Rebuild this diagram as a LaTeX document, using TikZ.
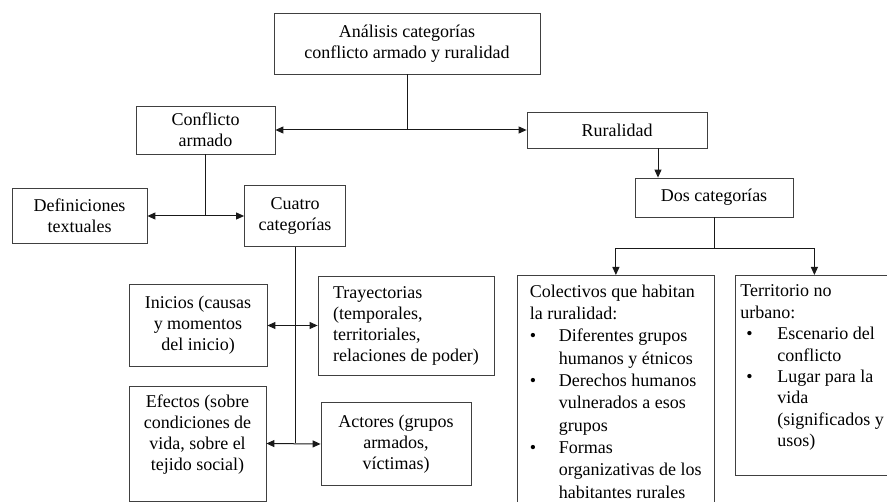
\documentclass[tikz,border=0pt]{standalone}
\usepackage{fontspec}
\setmainfont{Liberation Serif}
\usetikzlibrary{arrows.meta}
\newcommand{\colbul}{\makebox[29pt][l]{\hspace{0pt}\textbullet}}
\newcommand{\colind}{\hspace*{29pt}}
\newcommand{\terbul}{\makebox[37pt][l]{\hspace{6pt}\textbullet}}
\newcommand{\terind}{\hspace*{37pt}}
\begin{document}
\begin{tikzpicture}[x=1pt,y=-1pt,
  box/.style={draw=black!75, line width=0.8pt, align=center, inner sep=0pt,
    font=\fontsize{18}{21}\selectfont},
  lbox/.style={box, align=left},
  listbox/.style={draw=black!75, line width=0.8pt, anchor=north west, inner ysep=9.5pt},
  conn/.style={line width=1pt, draw=black!90},
  arr/.style={conn, -{Triangle[length=8pt,width=7pt]}},
  darr/.style={conn, {Triangle[length=8pt,width=7pt]}-{Triangle[length=8pt,width=7pt]}}]
\useasboundingbox (0,0) rectangle (887,502);
\clip (0,0) rectangle (887,502);

% boxes
\node[box, minimum width=266, minimum height=61] (top) at (407,43.5) {Análisis categorías\\conflicto armado y ruralidad};
\node[box, minimum width=139, minimum height=48] (conf) at (205.5,130) {Conflicto\\armado};
\node[box, minimum width=180, minimum height=36] (rur) at (617,130) {Ruralidad};
\node[box, minimum width=158, minimum height=39] (dos) at (714,197.5) {Dos categorías};
\node[box, minimum width=135, minimum height=55] (defi) at (79.5,216) {Definiciones\\textuales};
\node[box, minimum width=101, minimum height=61] (cuatro) at (295,216) {Cuatro\\categorías};
\node[box, minimum width=138, minimum height=82] (ini) at (198,325.5) {Inicios (causas\\y momentos\\del inicio)};
\node[lbox, minimum width=176, minimum height=99] (tray) at (406,325.5) {Trayectorias\\(temporales,\\territoriales,\\relaciones de poder)};
\node[box, minimum width=137, minimum height=115] (efe) at (197.5,443.5) {Efectos (sobre\\condiciones de\\vida, sobre el\\tejido social)\\\mbox{}};
\node[box, minimum width=150, minimum height=83] (act) at (396,444) {Actores (grupos\\armados,\\víctimas)};

\node[listbox, inner xsep=12.5pt] (col) at (517,275) {\parbox[t][240pt][t]{172pt}{\fontsize{18}{22.3}\selectfont\raggedright
Colectivos que habitan\\
la ruralidad:\\
\colbul Diferentes grupos\\
\colind humanos y étnicos\\
\colbul Derechos humanos\\
\colind vulnerados a esos\\
\colind grupos\\
\colbul Formas\\
\colind organizativas de los\\
\colind habitantes rurales}};

\node[listbox, inner xsep=5pt] (terr) at (735,275) {\parbox[t][181pt][t]{148pt}{\fontsize{18}{21.4}\selectfont\raggedright
Territorio no\\
urbano:\\
\terbul Escenario del\\
\terind conflicto\\
\terbul Lugar para la\\
\terind vida\\
\terind (significados y\\
\terind usos)}};

% connectors
\draw[conn] (top.south) -- (top.south |- conf.east);
\draw[darr] (conf.east) -- (rur.west);
\draw[arr] ([xshift=41pt]rur.south) -- ([xshift=-56pt]dos.north);
\draw[conn] (dos.south) -- ++(0,31) coordinate (j2);
\draw[arr] (j2) -| (col.north);
\draw[arr] (j2) -| (terr.north);
\draw[conn] (conf.south) -- (conf.south |- defi.east);
\draw[darr] (defi.east) -- (cuatro.west);
\draw[conn] (cuatro.south) -- (cuatro.south |- efe.east);
\draw[darr] (ini.east) -- (tray.west);
\draw[darr] (efe.east) -- (act.west);
\end{tikzpicture}
\end{document}
